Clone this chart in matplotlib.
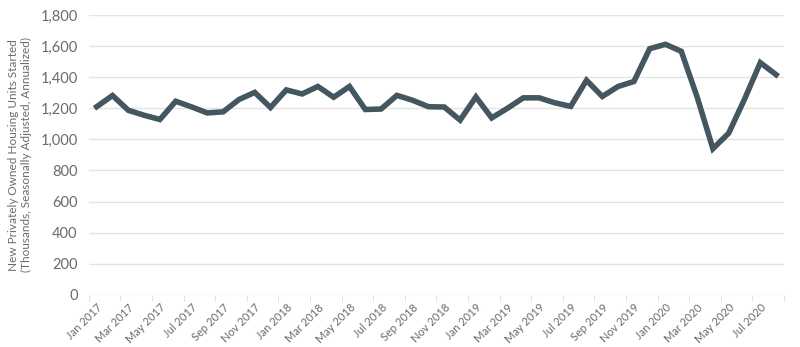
import matplotlib.pyplot as plt
from matplotlib.ticker import FuncFormatter, FixedLocator

months = ["Jan", "Feb", "Mar", "Apr", "May", "Jun",
          "Jul", "Aug", "Sep", "Oct", "Nov", "Dec"]
dates = ["{} {}".format(m, y) for y in range(2017, 2021) for m in months][:44]

starts_2017 = [1210, 1282, 1187, 1155, 1128, 1245, 1209, 1170, 1177, 1256, 1302, 1205]
starts_2018 = [1318, 1292, 1340, 1271, 1340, 1192, 1195, 1283, 1251, 1210, 1208, 1124]
starts_2019 = [1273, 1138, 1200, 1267, 1267, 1235, 1212, 1380, 1276, 1340, 1372, 1583]
starts_2020 = [1611, 1566, 1273, 940, 1040, 1258, 1493, 1416]
starts = starts_2017 + starts_2018 + starts_2019 + starts_2020

plt.rcParams["font.family"] = ["Lato", "DejaVu Sans"]
text_color = "#6b6b6b"

fig = plt.figure(figsize=(8, 3.47), dpi=100)
ax = fig.add_axes([0.111, 0.15, 0.869, 0.807])

x = list(range(len(starts)))
ax.plot(x, starts, color="#44565f", linewidth=4, solid_joinstyle="miter")

ax.set_xlim(-0.5, len(starts) - 0.5)
ax.set_ylim(0, 1800)
ax.set_yticks(range(0, 1801, 200))
ax.yaxis.set_major_formatter(FuncFormatter(lambda v, p: "{:,.0f}".format(v)))

ax.set_xticks(x[::2])
ax.set_xticklabels(dates[::2], rotation=45, ha="right", rotation_mode="anchor")
ax.xaxis.set_minor_locator(FixedLocator([i - 0.5 for i in range(0, len(starts) + 1, 2)]))
ax.tick_params(axis="x", which="major", length=0, pad=5, labelsize=8, labelcolor=text_color)
ax.tick_params(axis="x", which="minor", length=4, color="#dddddd")
ax.tick_params(axis="y", length=0, pad=8, labelsize=10.5, labelcolor=text_color)

ax.grid(axis="y", color="#e3e3e3", linewidth=1)
ax.set_axisbelow(True)
for s in ax.spines.values():
    s.set_visible(False)

ax.set_ylabel("New Privately Owned Housing Units Started\n(Thousands, Seasonally Adjusted, Annualized)",
              fontsize=8.5, color=text_color, labelpad=6)

plt.savefig("out.png", dpi=100)
